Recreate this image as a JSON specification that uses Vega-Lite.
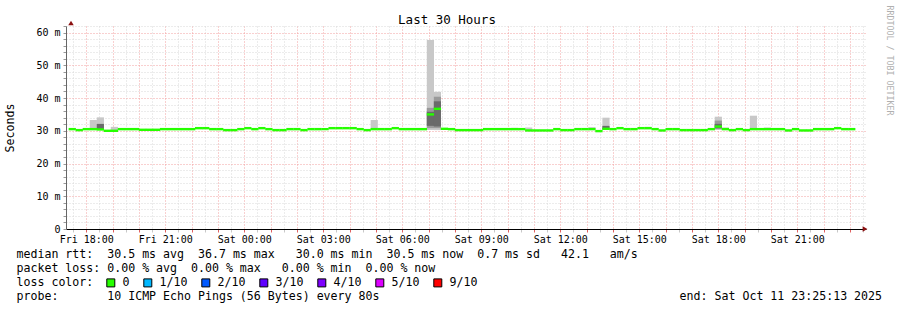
{
  "$schema": "https://vega.github.io/schema/vega-lite/v6.json",
  "width": 800,
  "height": 203,
  "padding": {"left": 66, "top": 26, "right": 31, "bottom": 81},
  "autosize": {"type": "none"},
  "config": {
    "font": "DejaVu Sans Mono",
    "view": {"stroke": null}
  },
  "title": {
    "text": "Last 30 Hours",
    "fontSize": 12.5,
    "fontWeight": "normal",
    "color": "black",
    "dx": -19,
    "offset": -21
  },
  "datasets": {
    "med": [
      {"t": "2025-10-10T17:20:00Z", "m": 30.5, "l": "0"},
      {"t": "2025-10-10T17:36:00Z", "m": 30.2, "l": "0"},
      {"t": "2025-10-10T17:52:00Z", "m": 30.5, "l": "0"},
      {"t": "2025-10-10T18:08:00Z", "m": 30.5, "l": "0"},
      {"t": "2025-10-10T18:24:00Z", "m": 30.4, "l": "0"},
      {"t": "2025-10-10T18:40:00Z", "m": 30.0, "l": "0"},
      {"t": "2025-10-10T18:56:00Z", "m": 30.0, "l": "0"},
      {"t": "2025-10-10T19:12:00Z", "m": 30.5, "l": "0"},
      {"t": "2025-10-10T19:28:00Z", "m": 30.5, "l": "0"},
      {"t": "2025-10-10T19:44:00Z", "m": 30.5, "l": "0"},
      {"t": "2025-10-10T20:00:00Z", "m": 30.3, "l": "0"},
      {"t": "2025-10-10T20:16:00Z", "m": 30.3, "l": "0"},
      {"t": "2025-10-10T20:32:00Z", "m": 30.3, "l": "0"},
      {"t": "2025-10-10T20:48:00Z", "m": 30.5, "l": "0"},
      {"t": "2025-10-10T21:04:00Z", "m": 30.5, "l": "0"},
      {"t": "2025-10-10T21:20:00Z", "m": 30.5, "l": "0"},
      {"t": "2025-10-10T21:36:00Z", "m": 30.5, "l": "0"},
      {"t": "2025-10-10T21:52:00Z", "m": 30.5, "l": "0"},
      {"t": "2025-10-10T22:08:00Z", "m": 30.8, "l": "0"},
      {"t": "2025-10-10T22:24:00Z", "m": 30.8, "l": "0"},
      {"t": "2025-10-10T22:40:00Z", "m": 30.5, "l": "0"},
      {"t": "2025-10-10T22:56:00Z", "m": 30.5, "l": "0"},
      {"t": "2025-10-10T23:12:00Z", "m": 30.2, "l": "0"},
      {"t": "2025-10-10T23:28:00Z", "m": 30.2, "l": "0"},
      {"t": "2025-10-10T23:44:00Z", "m": 30.5, "l": "0"},
      {"t": "2025-10-11T00:00:00Z", "m": 30.8, "l": "0"},
      {"t": "2025-10-11T00:16:00Z", "m": 30.5, "l": "0"},
      {"t": "2025-10-11T00:32:00Z", "m": 30.8, "l": "0"},
      {"t": "2025-10-11T00:48:00Z", "m": 30.5, "l": "0"},
      {"t": "2025-10-11T01:04:00Z", "m": 30.2, "l": "0"},
      {"t": "2025-10-11T01:20:00Z", "m": 30.2, "l": "0"},
      {"t": "2025-10-11T01:36:00Z", "m": 30.5, "l": "0"},
      {"t": "2025-10-11T01:52:00Z", "m": 30.5, "l": "0"},
      {"t": "2025-10-11T02:08:00Z", "m": 30.2, "l": "0"},
      {"t": "2025-10-11T02:24:00Z", "m": 30.5, "l": "0"},
      {"t": "2025-10-11T02:40:00Z", "m": 30.5, "l": "0"},
      {"t": "2025-10-11T02:56:00Z", "m": 30.5, "l": "0"},
      {"t": "2025-10-11T03:12:00Z", "m": 30.8, "l": "0"},
      {"t": "2025-10-11T03:28:00Z", "m": 30.8, "l": "0"},
      {"t": "2025-10-11T03:44:00Z", "m": 30.8, "l": "0"},
      {"t": "2025-10-11T04:00:00Z", "m": 30.8, "l": "0"},
      {"t": "2025-10-11T04:16:00Z", "m": 30.5, "l": "0"},
      {"t": "2025-10-11T04:32:00Z", "m": 30.2, "l": "0"},
      {"t": "2025-10-11T04:48:00Z", "m": 30.5, "l": "0"},
      {"t": "2025-10-11T05:04:00Z", "m": 30.5, "l": "0"},
      {"t": "2025-10-11T05:20:00Z", "m": 30.5, "l": "0"},
      {"t": "2025-10-11T05:36:00Z", "m": 30.8, "l": "0"},
      {"t": "2025-10-11T05:52:00Z", "m": 30.5, "l": "0"},
      {"t": "2025-10-11T06:08:00Z", "m": 30.5, "l": "0"},
      {"t": "2025-10-11T06:24:00Z", "m": 30.5, "l": "0"},
      {"t": "2025-10-11T06:40:00Z", "m": 30.5, "l": "0"},
      {"t": "2025-10-11T06:56:00Z", "m": 35.0, "l": "0"},
      {"t": "2025-10-11T07:12:00Z", "m": 36.7, "l": "0"},
      {"t": "2025-10-11T07:28:00Z", "m": 30.6, "l": "0"},
      {"t": "2025-10-11T07:44:00Z", "m": 30.5, "l": "0"},
      {"t": "2025-10-11T08:00:00Z", "m": 30.2, "l": "0"},
      {"t": "2025-10-11T08:16:00Z", "m": 30.2, "l": "0"},
      {"t": "2025-10-11T08:32:00Z", "m": 30.2, "l": "0"},
      {"t": "2025-10-11T08:48:00Z", "m": 30.2, "l": "0"},
      {"t": "2025-10-11T09:04:00Z", "m": 30.5, "l": "0"},
      {"t": "2025-10-11T09:20:00Z", "m": 30.5, "l": "0"},
      {"t": "2025-10-11T09:36:00Z", "m": 30.5, "l": "0"},
      {"t": "2025-10-11T09:52:00Z", "m": 30.5, "l": "0"},
      {"t": "2025-10-11T10:08:00Z", "m": 30.5, "l": "0"},
      {"t": "2025-10-11T10:24:00Z", "m": 30.5, "l": "0"},
      {"t": "2025-10-11T10:40:00Z", "m": 30.1, "l": "0"},
      {"t": "2025-10-11T10:56:00Z", "m": 30.1, "l": "0"},
      {"t": "2025-10-11T11:12:00Z", "m": 30.1, "l": "0"},
      {"t": "2025-10-11T11:28:00Z", "m": 30.1, "l": "0"},
      {"t": "2025-10-11T11:44:00Z", "m": 30.5, "l": "0"},
      {"t": "2025-10-11T12:00:00Z", "m": 30.2, "l": "0"},
      {"t": "2025-10-11T12:16:00Z", "m": 30.2, "l": "0"},
      {"t": "2025-10-11T12:32:00Z", "m": 30.5, "l": "0"},
      {"t": "2025-10-11T12:48:00Z", "m": 30.5, "l": "0"},
      {"t": "2025-10-11T13:04:00Z", "m": 30.5, "l": "0"},
      {"t": "2025-10-11T13:20:00Z", "m": 29.9, "l": "0"},
      {"t": "2025-10-11T13:36:00Z", "m": 30.6, "l": "0"},
      {"t": "2025-10-11T13:52:00Z", "m": 30.5, "l": "0"},
      {"t": "2025-10-11T14:08:00Z", "m": 30.8, "l": "0"},
      {"t": "2025-10-11T14:24:00Z", "m": 30.5, "l": "0"},
      {"t": "2025-10-11T14:40:00Z", "m": 30.5, "l": "0"},
      {"t": "2025-10-11T14:56:00Z", "m": 30.8, "l": "0"},
      {"t": "2025-10-11T15:12:00Z", "m": 30.8, "l": "0"},
      {"t": "2025-10-11T15:28:00Z", "m": 30.5, "l": "0"},
      {"t": "2025-10-11T15:44:00Z", "m": 30.1, "l": "0"},
      {"t": "2025-10-11T16:00:00Z", "m": 30.5, "l": "0"},
      {"t": "2025-10-11T16:16:00Z", "m": 30.5, "l": "0"},
      {"t": "2025-10-11T16:32:00Z", "m": 30.2, "l": "0"},
      {"t": "2025-10-11T16:48:00Z", "m": 30.2, "l": "0"},
      {"t": "2025-10-11T17:04:00Z", "m": 30.2, "l": "0"},
      {"t": "2025-10-11T17:20:00Z", "m": 30.2, "l": "0"},
      {"t": "2025-10-11T17:36:00Z", "m": 30.5, "l": "0"},
      {"t": "2025-10-11T17:52:00Z", "m": 31.3, "l": "0"},
      {"t": "2025-10-11T18:08:00Z", "m": 30.5, "l": "0"},
      {"t": "2025-10-11T18:24:00Z", "m": 30.2, "l": "0"},
      {"t": "2025-10-11T18:40:00Z", "m": 30.5, "l": "0"},
      {"t": "2025-10-11T18:56:00Z", "m": 30.2, "l": "0"},
      {"t": "2025-10-11T19:12:00Z", "m": 30.5, "l": "0"},
      {"t": "2025-10-11T19:28:00Z", "m": 30.5, "l": "0"},
      {"t": "2025-10-11T19:44:00Z", "m": 30.5, "l": "0"},
      {"t": "2025-10-11T20:00:00Z", "m": 30.5, "l": "0"},
      {"t": "2025-10-11T20:16:00Z", "m": 30.5, "l": "0"},
      {"t": "2025-10-11T20:32:00Z", "m": 30.1, "l": "0"},
      {"t": "2025-10-11T20:48:00Z", "m": 30.5, "l": "0"},
      {"t": "2025-10-11T21:04:00Z", "m": 30.1, "l": "0"},
      {"t": "2025-10-11T21:20:00Z", "m": 30.1, "l": "0"},
      {"t": "2025-10-11T21:36:00Z", "m": 30.5, "l": "0"},
      {"t": "2025-10-11T21:52:00Z", "m": 30.5, "l": "0"},
      {"t": "2025-10-11T22:08:00Z", "m": 30.5, "l": "0"},
      {"t": "2025-10-11T22:24:00Z", "m": 30.8, "l": "0"},
      {"t": "2025-10-11T22:40:00Z", "m": 30.5, "l": "0"},
      {"t": "2025-10-11T22:56:00Z", "m": 30.5, "l": "0"}
    ],
    "smoke": [
      {"t": "2025-10-10T18:08:00Z", "lo": 30.3, "hi": 33.3, "s": 1},
      {"t": "2025-10-10T18:24:00Z", "lo": 30.3, "hi": 34.1, "s": 1},
      {"t": "2025-10-10T18:56:00Z", "lo": 30.0, "hi": 31.2, "s": 1},
      {"t": "2025-10-11T04:48:00Z", "lo": 30.3, "hi": 33.3, "s": 1},
      {"t": "2025-10-11T06:56:00Z", "lo": 30.2, "hi": 57.7, "s": 1},
      {"t": "2025-10-11T07:12:00Z", "lo": 30.2, "hi": 41.9, "s": 1},
      {"t": "2025-10-11T10:08:00Z", "lo": 30.3, "hi": 30.9, "s": 1},
      {"t": "2025-10-11T10:40:00Z", "lo": 30.3, "hi": 31.0, "s": 1},
      {"t": "2025-10-11T13:04:00Z", "lo": 30.3, "hi": 31.1, "s": 1},
      {"t": "2025-10-11T13:36:00Z", "lo": 30.3, "hi": 34.0, "s": 1},
      {"t": "2025-10-11T15:12:00Z", "lo": 30.5, "hi": 31.2, "s": 1},
      {"t": "2025-10-11T17:52:00Z", "lo": 30.3, "hi": 34.3, "s": 1},
      {"t": "2025-10-11T18:08:00Z", "lo": 30.3, "hi": 31.0, "s": 1},
      {"t": "2025-10-11T19:12:00Z", "lo": 30.3, "hi": 34.6, "s": 1},
      {"t": "2025-10-11T19:44:00Z", "lo": 30.3, "hi": 31.0, "s": 1},
      {"t": "2025-10-11T06:56:00Z", "lo": 30.8, "hi": 37.0, "s": 2},
      {"t": "2025-10-11T07:12:00Z", "lo": 30.8, "hi": 40.4, "s": 2},
      {"t": "2025-10-11T17:52:00Z", "lo": 30.5, "hi": 33.1, "s": 2},
      {"t": "2025-10-10T18:24:00Z", "lo": 30.4, "hi": 32.1, "s": 3},
      {"t": "2025-10-11T06:56:00Z", "lo": 31.5, "hi": 35.8, "s": 3},
      {"t": "2025-10-11T07:12:00Z", "lo": 31.3, "hi": 39.0, "s": 3},
      {"t": "2025-10-11T13:36:00Z", "lo": 30.5, "hi": 31.5, "s": 3},
      {"t": "2025-10-11T17:52:00Z", "lo": 30.8, "hi": 32.1, "s": 3}
    ],
    "one": [{"k": 1}]
  },
  "layer": [
    {
      "data": {"name": "smoke"},
      "mark": {"type": "bar", "size": 7.2, "xOffset": 3.56, "clip": true},
      "encoding": {
        "x": {
          "field": "t",
          "type": "temporal",
          "scale": {"type": "utc", "domain": [1760117113000, 1760225113000]},
          "axis": {
            "tickCount": 60,
            "grid": true,
            "gridColor": {"condition": {"test": "utcminutes(datum.value) === 0", "value": "#f3a0a0"}, "value": "#d8d8d8"},
            "gridDash": [1, 2],
            "domainColor": "black",
            "tickColor": {"condition": {"test": "utcminutes(datum.value) === 0", "value": "#e06060"}, "value": "#c8c8c8"},
            "tickSize": 3,
            "labelExpr": "utcminutes(datum.value) === 0 && utchours(datum.value) % 3 === 0 ? utcFormat(datum.value, '%a %H:%M') : ''",
            "labelFontSize": 10,
            "labelColor": "black",
            "labelPadding": 2,
            "labelOverlap": false,
            "title": [
              "median rtt:\u00a0\u00a030.5 ms avg\u00a0\u00a036.7 ms max\u00a0\u00a0\u00a030.0 ms min\u00a0\u00a030.5 ms now\u00a0\u00a00.7 ms sd\u00a0\u00a0\u00a042.1\u00a0\u00a0\u00a0am/s",
              "packet loss: 0.00 % avg\u00a0\u00a00.00 % max\u00a0\u00a0\u00a00.00 % min\u00a0\u00a00.00 % now",
              "loss color:",
              "probe:\u00a0\u00a0\u00a0\u00a0\u00a0\u00a0\u00a010 ICMP Echo Pings (56 Bytes) every 80s\u00a0\u00a0\u00a0\u00a0\u00a0\u00a0\u00a0\u00a0\u00a0\u00a0\u00a0\u00a0\u00a0\u00a0\u00a0\u00a0\u00a0\u00a0\u00a0\u00a0\u00a0\u00a0\u00a0\u00a0\u00a0\u00a0\u00a0\u00a0\u00a0\u00a0\u00a0\u00a0\u00a0\u00a0\u00a0\u00a0\u00a0\u00a0\u00a0\u00a0\u00a0\u00a0\u00a0end: Sat Oct 11 23:25:13 2025"
            ],
            "titleX": -50,
            "titleY": 28.3,
            "titleAlign": "left",
            "titleBaseline": "alphabetic",
            "titleFontSize": 11.6,
            "titleFontWeight": "normal",
            "titleLineHeight": 14,
            "titleColor": "black",
            "titleLimit": 2000
          }
        },
        "y": {
          "field": "lo",
          "type": "quantitative",
          "scale": {"domain": [0, 62], "nice": false},
          "axis": {
            "orient": "right",
            "domain": false,
            "ticks": false,
            "labels": false,
            "grid": false,
            "title": "RRDTOOL / TOBI OETIKER",
            "titleAngle": 90,
            "titleX": 22,
            "titleY": 34,
            "titleAlign": "center",
            "titleBaseline": "middle",
            "titleFontSize": 8.3,
            "titleFontWeight": "normal",
            "titleColor": "#b0b0b0"
          }
        },
        "y2": {"field": "hi"},
        "fill": {
          "field": "s",
          "type": "ordinal",
          "scale": {"domain": [1, 2, 3], "range": ["#c8c8c8", "#9a9a9a", "#6a6a6a"]},
          "legend": null
        }
      }
    },
    {
      "data": {"name": "med"},
      "mark": {"type": "tick", "orient": "horizontal", "thickness": 2.4, "size": 7.3, "xOffset": 3.56, "opacity": 1, "clip": true},
      "encoding": {
        "x": {"field": "t", "type": "temporal"},
        "y": {
          "field": "m",
          "type": "quantitative",
          "axis": {
            "orient": "left",
            "tickCount": 31,
            "grid": true,
            "gridColor": {"condition": {"test": "datum.value % 10 === 0", "value": "#f3a0a0"}, "value": "#d8d8d8"},
            "gridDash": [1, 2],
            "domainColor": "#666666",
            "tickColor": "#999999",
            "tickSize": 3,
            "labelExpr": "datum.value % 10 === 0 ? (datum.value === 0 ? '0' : datum.value + ' m') : ''",
            "labelFontSize": 10,
            "labelColor": "black",
            "labelPadding": 3,
            "labelOverlap": false,
            "title": "Seconds",
            "titleX": -55.5,
            "titleY": 101.5,
            "titleAngle": -90,
            "titleAlign": "center",
            "titleBaseline": "middle",
            "titleFontSize": 11.6,
            "titleFontWeight": "normal",
            "titleColor": "black"
          }
        },
        "color": {
          "field": "l",
          "type": "nominal",
          "scale": {
            "domain": ["0", "1/10", "2/10", "3/10", "4/10", "5/10", "9/10"],
            "range": ["#26ff00", "#00b8ff", "#0059ff", "#5e00ff", "#7e00ff", "#dd00ff", "#ff0000"]
          },
          "legend": {
            "orient": "none",
            "legendX": 39,
            "legendY": 251,
            "direction": "horizontal",
            "title": null,
            "symbolType": "square",
            "symbolSize": 64,
            "symbolStrokeColor": "black",
            "symbolStrokeWidth": 1,
            "symbolOpacity": 1,
            "labelFontSize": 11.6,
            "labelColor": "black",
            "labelOffset": 6,
            "columnPadding": 11
          }
        }
      }
    },
    {
      "data": {"name": "one"},
      "mark": {"type": "point", "shape": "triangle-right", "filled": true, "size": 30, "color": "#8b1010", "opacity": 1, "xOffset": 4},
      "encoding": {
        "x": {"datum": 1760225113000, "type": "temporal"},
        "y": {"datum": 0, "type": "quantitative", "axis": null}
      }
    },
    {
      "data": {"name": "one"},
      "mark": {"type": "point", "shape": "triangle-up", "filled": true, "size": 30, "color": "#8b1010", "opacity": 1, "yOffset": -3},
      "encoding": {
        "x": {"datum": 1760117113000, "type": "temporal"},
        "y": {"datum": 62, "type": "quantitative", "axis": null}
      }
    }
  ],
  "resolve": {"axis": {"y": "independent"}}
}
